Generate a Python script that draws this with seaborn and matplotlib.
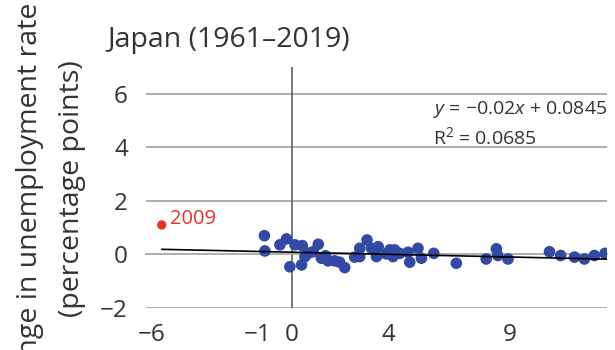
import matplotlib
matplotlib.use("Agg")
import matplotlib.pyplot as plt
import matplotlib.transforms as mtransforms
import seaborn as sns
import numpy as np
import pandas as pd

growth = [-1.12, -1.10, -0.48, -0.21, 0.14, 0.44, -0.07, 0.41, 0.55, 0.89,
          1.10, 1.23, 1.51, 1.78, 1.98, 2.19, 2.81, 2.81, 3.11, 3.29,
          3.57, 3.50, 4.05, 4.25, 4.18, 4.46, 4.80, 4.87, 5.21, 5.35,
          5.86, 6.79, 8.02, 8.44, 8.50, 8.92, 10.63, 11.09, 11.66, 12.07,
          12.48, 12.92, 0.70, 1.40, 3.90, 2.60]
unemp_change = [0.70, 0.13, 0.36, 0.58, 0.36, 0.33, -0.46, -0.39, -0.08, 0.10,
                0.38, -0.14, -0.24, -0.24, -0.29, -0.49, 0.23, -0.08, 0.54, 0.23,
                0.29, -0.08, 0.17, 0.17, -0.08, 0.04, 0.08, -0.29, 0.23, -0.14,
                0.04, -0.33, -0.17, 0.21, -0.04, -0.17, 0.10, -0.04, -0.10, -0.17,
                -0.04, 0.04, 0.05, -0.05, 0.02, -0.10]
outlier_growth = [-5.35]
outlier_change = [1.10]
outlier_label = ["2009"]

slope, intercept = -0.02, 0.0845
equation = "$y$ = \u22120.02$x$ + 0.0845"
r2_text = "R$^2$ = 0.0685"
title = "Japan (1961\u20132019)"
ylabel1 = "Change in unemployment rate"
ylabel2 = "(percentage points)"
xticks = [-6, -1, 0, 4, 9]
yticks = [-2, 0, 2, 4, 6]

sns.set_style("white")
plt.rcParams["font.family"] = ["Open Sans", "DejaVu Sans"]
plt.rcParams["mathtext.fontset"] = "custom"
plt.rcParams["mathtext.it"] = "Open Sans:italic"
plt.rcParams["mathtext.rm"] = "Open Sans"

txt = "#333333"
grid_c = "#a8a8a8"
blue = "#3349a6"
red = "#e8321f"

fig = plt.figure(figsize=(6.15, 3.5), dpi=100)
ax = fig.add_axes([146/615, 42/350, (607-146)/615, (308-67)/350])

df = pd.DataFrame({"growth": growth, "change": unemp_change})
dfo = pd.DataFrame({"growth": outlier_growth, "change": outlier_change})

ax.set_xlim(-6, 13)
ax.set_ylim(-2, 7)

# gridlines
for yv in yticks:
    if yv != 0:
        ax.axhline(yv, color=grid_c, lw=1.3, zorder=0)
ax.axvline(0, color="#555555", lw=1.1, zorder=1)

sns.scatterplot(data=df, x="growth", y="change", ax=ax, color=blue, s=70,
                edgecolor="none", zorder=3, legend=False)
sns.scatterplot(data=dfo, x="growth", y="change", ax=ax, color=red, s=45,
                edgecolor="none", zorder=3, legend=False)
for gx, gy, lab in zip(outlier_growth, outlier_change, outlier_label):
    ax.annotate(lab, (gx, gy), xytext=(6, 4), textcoords="offset points",
                color=red, fontsize=14.5, va="center", ha="left")

xs = np.array([min(outlier_growth), 13])
ax.plot(xs, slope * xs + intercept, color="black", lw=1.2, zorder=4)

# x axis line at zero with small ticks
for s in ["top", "right", "left"]:
    ax.spines[s].set_visible(False)
ax.spines["bottom"].set_position(("data", 0))
ax.spines["bottom"].set_color(grid_c)
ax.spines["bottom"].set_linewidth(1.3)
ax.spines["bottom"].set_zorder(2)
ax.set_xticks(xticks)
ax.tick_params(axis="x", direction="out", length=4, width=1.2, color=grid_c,
               labelbottom=False)
ax.set_yticks(yticks)
ax.set_yticklabels([str(v).replace("-", "\u2212") for v in yticks])
ax.tick_params(axis="y", length=0, pad=13, labelsize=17.5, labelcolor=txt)
ax.set_xlabel("")
ax.set_ylabel("")

sec = ax.secondary_xaxis("bottom")
sec.spines["bottom"].set_visible(False)
sec.set_xticks(xticks)
sec.set_xticklabels([str(v).replace("-", "\u2212") for v in xticks])
sec.tick_params(length=0, pad=11, labelsize=17.5, labelcolor=txt)
# small horizontal nudges of crowded labels, as in the reference
nudges = {-6: 4, -1: -7}
for tv, lab in zip(xticks, sec.get_xticklabels()):
    if tv in nudges:
        lab.set_transform(lab.get_transform() +
                          mtransforms.ScaledTranslation(nudges[tv] / 72, 0,
                                                        fig.dpi_scale_trans))

ax.text(1.0, 0.765, equation + "\n" + r2_text, transform=ax.transAxes,
        fontsize=14, color=txt, ha="right", va="center", linespacing=1.3,
        multialignment="left")

fig.text(107/615, 1 - 40/350, title, fontsize=20.5, color=txt, ha="left", va="center")
fig.text(30/615, 1 - 3/350, ylabel1, rotation=90, fontsize=20.5, color=txt,
         ha="center", va="top")
fig.text(72/615, 1 - 60/350, ylabel2, rotation=90, fontsize=20.5, color=txt,
         ha="center", va="top")

fig.savefig("out.png", dpi=100)
